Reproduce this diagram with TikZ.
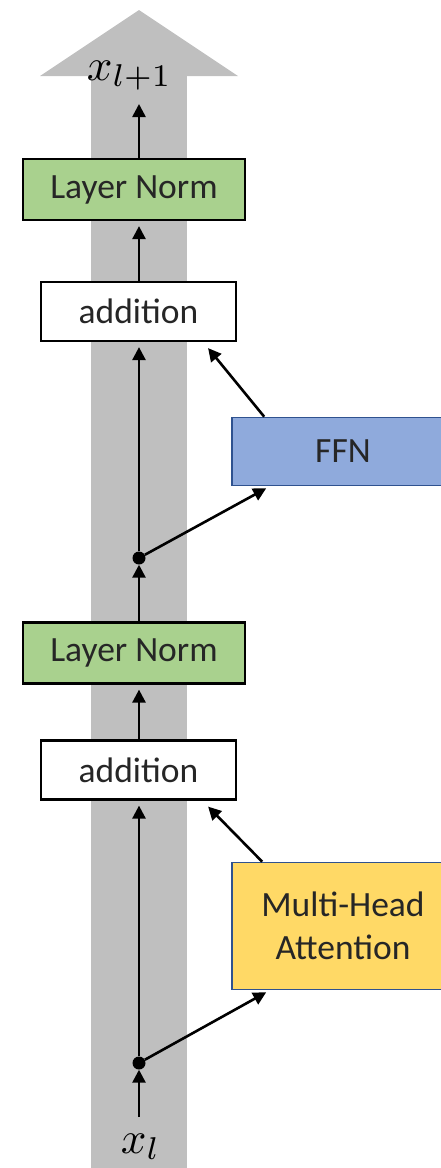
\documentclass[tikz,border=0pt]{standalone}
\usepackage{fontspec}
\setmainfont{Carlito}
\usetikzlibrary{arrows.meta,calc}
\definecolor{bandgray}{HTML}{BFBFBF}
\definecolor{lngreen}{HTML}{A9D18E}
\definecolor{ffnblue}{HTML}{8FAADC}
\definecolor{mhayellow}{HTML}{FFD966}
\definecolor{edgeblue}{HTML}{2F528F}
\definecolor{txt}{HTML}{262626}
\begin{document}
\begin{tikzpicture}[x=1pt,y=-1pt,
  box/.style={draw=black,line width=2.2pt,inner sep=0pt,text=txt,
    font=\fontsize{35.5}{38}\selectfont},
  lnbox/.style={box,fill=lngreen,minimum width=222pt,minimum height=61pt},
  addbox/.style={box,fill=white,minimum width=195pt,minimum height=59pt},
  subbox/.style={box,draw=edgeblue,line width=1.6pt,minimum width=222pt,align=center},
  dotn/.style={circle,fill=black,inner sep=0pt,minimum size=13pt},
  arr/.style={line width=2.6pt,-{Triangle[length=13pt,width=13pt]}},
  mathlbl/.style={inner sep=0pt,scale=4.5},
]
\useasboundingbox (0,0) rectangle (441,1168);

% wide grey residual stream with its arrow head
\fill[bandgray] (91,76) rectangle (187,1168);
\fill[bandgray] (40,76) -- (139,10) -- (238,76) -- cycle;

% blocks
\node[lnbox]  (ln1)  at (134,189.5) {Layer Norm};
\node[addbox] (add1) at (138.5,311.5) {addition};
\node[subbox,fill=ffnblue,minimum height=68pt] (ffn) at (343,451.5) {FFN};
\node[lnbox]  (ln2)  at (134,653) {Layer Norm};
\node[addbox] (add2) at (138.5,770) {addition};
\node[subbox,fill=mhayellow,minimum height=127pt,
  font=\fontsize{35.5}{43}\selectfont] (mha) at (343,926) {Multi-Head\\Attention};

% branch points
\node[dotn] (d1) at (139,558) {};
\node[dotn] (d2) at (139,1063) {};

% labels
\node[mathlbl,anchor=base west] (xout) at (86,80) {$x_{l+1}$};
\node[mathlbl,anchor=base west] (xin) at (120,1153) {$x_l$};
\coordinate (xinTop) at (139,1117);
\coordinate (xoutBot) at (139,104);

% main path
\draw[arr] (xinTop) -- (d2);
\draw[arr,shorten >=5pt] (d2) -- (add2.south -| d2);
\draw[arr,shorten >=5pt] (add2.north -| d2) -- (ln2.south -| d2);
\draw[arr] (ln2.north -| d1) -- (d1);
\draw[arr,shorten >=5pt] (d1) -- (add1.south -| d1);
\draw[arr,shorten >=5pt] (add1.north -| d1) -- (ln1.south -| d1);
\draw[arr] (ln1.north -| d1) -- (xoutBot);

% sub-layer branches
\draw[arr] (d2) -- ($(mha.south west)+(35,2)$);
\draw[arr] ($(mha.north west)+(31,0)$) -- ($(add2.south east)+(-29,6)$);
\draw[arr] (d1) -- ($(ffn.south west)+(35,2)$);
\draw[arr] ($(ffn.north west)+(33,0)$) -- ($(add1.south east)+(-29,6)$);
\end{tikzpicture}
\end{document}
